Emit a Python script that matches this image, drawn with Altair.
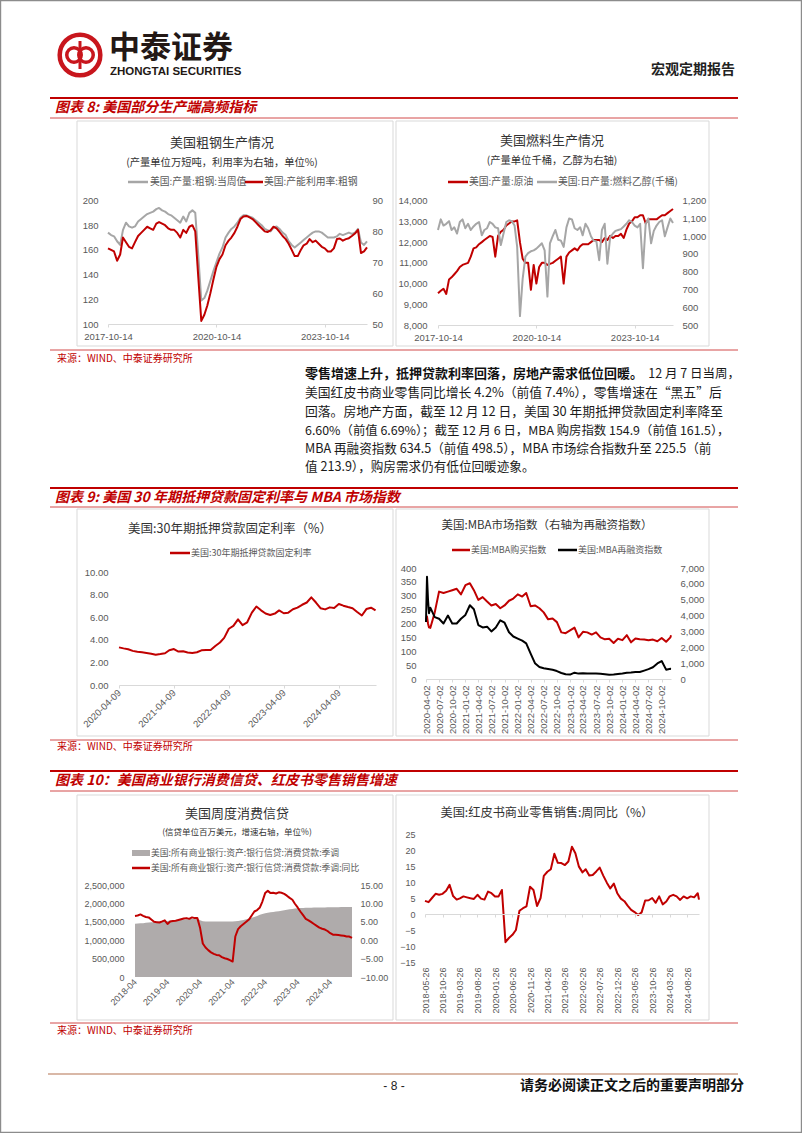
import altair as alt
import pandas as pd

W, H = 802, 1133
RED = "#C00000"
THIN_RED = "#D24B4B"
GRAY = "#A6A6A6"
AREA_GRAY = "#AFABAB"
LABEL = "#595959"
TITLE = "#333333"
CJK = "Noto Sans CJK SC"
NUM = "Liberation Sans, Noto Sans CJK SC"

# ---------------- chart values ----------------
# Chart 1: US crude steel, monthly samples Oct-2017 .. Dec-2024
steel_output = [174, 172, 171, 167, 164, 176, 182, 179, 178, 179,
                183, 185, 187, 189, 190, 191, 193, 194, 192, 191,
                189, 188, 186, 184, 182, 187, 183, 190, 192, 190,
                155, 119, 121, 127, 135, 143, 150, 157, 162, 170,
                174, 177, 179, 182, 186, 188, 188, 187, 186, 184,
                182, 180, 177, 176, 175, 178, 179, 177, 174, 172,
                167, 164, 162, 164, 166, 168, 170, 172, 174, 175,
                175, 174, 172, 170, 170, 170, 171, 173, 172, 173,
                174, 173, 174, 177, 166, 164, 167]
steel_util = [74.5, 74.0, 73.5, 70.5, 72.5, 78.0, 76.5, 75.0, 74.5, 76.5,
              78.5, 79.5, 80.5, 81.5, 81.0, 80.5, 82.5, 83.0, 82.5, 82.0,
              81.0, 80.5, 80.5, 79.5, 78.0, 80.5, 79.5, 81.5, 82.0, 80.0,
              65.0, 51.0, 53.0, 56.0, 60.0, 64.5, 68.5, 71.0, 72.5, 75.5,
              77.0, 78.0, 79.5, 81.5, 84.0, 84.8, 85.0, 84.5, 84.0, 83.0,
              82.0, 81.0, 80.0, 79.8, 80.3, 81.5, 81.0, 79.8, 78.5, 77.5,
              76.0, 74.0, 72.0, 72.0, 74.0, 75.5, 76.0, 77.5, 76.5, 77.0,
              76.0, 75.0, 74.5, 73.5, 73.5, 74.5, 77.5, 77.7, 77.0, 77.5,
              77.8, 78.5, 79.3, 80.5, 73.0, 73.5, 74.8]

# Chart 2: US crude oil output and fuel ethanol output, Oct-2017 .. Dec-2024
crude_oil = [9530, 9650, 9750, 9500, 10200, 10300, 10450, 10600, 10800, 10900,
             10950, 11000, 11300, 11700, 11750, 11900, 12000, 12100, 12200, 12300,
             12250, 11300, 12300, 12500, 12600, 12800, 12900, 13000, 13000, 13050,
             12000, 11200, 11000, 11000, 9700, 10900, 10000, 10800, 11000, 11000,
             10900, 10950, 11000, 11100, 11200, 11300, 10000, 11300, 11500, 11600,
             11700, 11600, 11800, 11900, 11900, 11900, 12000, 12100, 12100, 12100,
             12000, 12200, 12100, 12300, 12200, 12300, 12300, 12400, 12200, 12600,
             12900, 13000, 13200, 13200, 13300, 13300, 12900, 13100, 13100, 13100,
             13100, 13200, 13300, 13300, 13400, 13500, 13600]
ethanol = [1035, 1095, 1060, 1070, 1085, 1035, 1050, 1015, 1080, 1095,
           1045, 1070, 1035, 1055, 1070, 1080, 1005, 1035, 1045, 1080,
           1070, 1050, 1045, 950, 1015, 1080, 1090, 1085, 1060, 940,
           550, 760, 885, 905, 915, 920, 930, 945, 960, 920,
           660, 960, 1000, 1035, 980, 975, 940, 1050, 1100, 1095,
           1045, 1035, 1050, 1005, 1070, 1045, 1000, 975, 970, 865,
           1035, 1070, 845, 995, 1015, 1030, 1035, 1040, 1055, 1070,
           1090, 1080, 1060, 1050, 1070, 820, 1070, 1100, 960, 1030,
           1060, 1080, 1090, 1000, 1050, 1100, 1075]

# Chart 3: 30-year fixed mortgage rate, Apr-2020 .. Dec-2024
mortgage_rate = [3.33, 3.24, 3.16, 3.02, 2.94, 2.89, 2.83, 2.77, 2.68, 2.74,
                 2.81, 3.08, 3.18, 2.96, 2.98, 2.87, 2.84, 2.90, 3.07, 3.10,
                 3.10, 3.45, 3.76, 4.17, 4.98, 5.23, 5.81, 5.30, 5.55, 6.40,
                 6.95, 6.61, 6.33, 6.20, 6.32, 6.60, 6.35, 6.40, 6.70, 6.85,
                 7.10, 7.30, 7.76, 7.30, 6.80, 6.69, 6.87, 6.82, 7.17, 7.02,
                 6.90, 6.80, 6.46, 6.15, 6.72, 6.84, 6.60]

# Chart 4: MBA purchase index (left) and refinance index (right)
mba_early_dates = ["2020-04-02", "2020-04-09", "2020-04-16", "2020-04-23"]
mba_last_date = "2024-12-06"
mba_purchase = [213, 225, 200, 186,
                184, 240, 315, 310, 315, 320, 325, 305, 338, 345,
                320, 285, 295, 279, 265, 270, 255, 265, 282, 290,
                305, 297, 310, 262, 265, 255, 240, 215, 218, 205,
                168, 165, 175, 185, 150, 170, 168, 160, 168, 150,
                143, 145, 130, 145, 140, 158, 132, 146, 143, 142,
                140, 142, 136, 148, 134, 150,
                158]
mba_refi = [3600, 6450, 4990, 4145,
            4500, 3900, 3800, 3500, 4000, 3500, 3500, 3800, 4040, 4650,
            4400, 3400, 3250, 3300, 3000, 3250, 3700, 3550, 2950, 2680,
            2550, 2420, 2250, 1600, 1000, 760, 680, 630, 580, 500,
            380, 300, 280, 400, 340, 370, 350, 340, 340, 330,
            300, 275, 285, 320, 350, 390, 410, 440, 440, 530,
            620, 740, 980, 1130, 590, 640,
            634]

# Chart 5: consumer loans at commercial banks (USD mn) and YoY (%), Apr-2018 .. Dec-2024
consumer_loans = [1444000, 1451000, 1458000, 1464000, 1471000, 1478000, 1485000, 1491000, 1498000, 1505000,
                  1512000, 1518000, 1525000, 1532000, 1538000, 1545000, 1552000, 1558000, 1565000, 1571000,
                  1578000, 1585000, 1591000, 1598000, 1540000, 1515000, 1508000, 1505000, 1505000, 1505000,
                  1506000, 1506000, 1507000, 1507000, 1508000, 1508000, 1510000, 1512000, 1520000, 1535000,
                  1552000, 1570000, 1590000, 1610000, 1632000, 1660000, 1690000, 1715000, 1733000, 1745000,
                  1757000, 1768000, 1778000, 1790000, 1803000, 1815000, 1828000, 1841000, 1850000, 1860000,
                  1868000, 1873000, 1877000, 1880000, 1883000, 1885000, 1887000, 1888000, 1889000, 1890000,
                  1891000, 1893000, 1894000, 1895000, 1897000, 1898000, 1900000, 1901000, 1902000, 1903000,
                  1904000]
consumer_loans_yoy = [6.6, 6.7, 7.0, 6.6, 6.3, 6.2, 5.6, 5.0, 4.9, 4.8,
                      5.1, 5.4, 4.4, 5.1, 5.2, 5.3, 5.5, 5.7, 5.9, 6.0,
                      5.8, 6.2, 6.0, 6.0, 3.3, -0.9, -2.0, -2.7, -3.3, -3.7,
                      -4.0, -4.1, -4.6, -4.9, -5.1, -5.4, -5.8, 1.0, 3.0, 3.8,
                      4.4, 5.0, 5.6, 6.7, 7.8, 8.2, 8.9, 10.5, 12.8, 13.4,
                      12.8, 12.9, 12.7, 13.0, 12.9, 12.6, 12.1, 11.5, 11.0, 9.9,
                      8.9, 7.8, 6.8, 5.8, 5.4, 4.9, 4.4, 3.9, 3.4, 3.1,
                      2.9, 2.5, 1.9, 1.5, 1.5, 1.4, 1.3, 1.2, 1.0, 1.0,
                      0.6]

# Chart 6: Redbook retail sales YoY (%), May-2018 .. Dec-2024
redbook_last_date = "2024-12-07"
redbook_yoy = [4.1, 3.7, 5.0, 6.3, 6.0, 6.3, 7.3, 9.1, 5.6, 4.5,
               4.9, 5.5, 5.2, 4.9, 4.7, 6.0, 4.8, 4.5, 7.0, 6.5,
               5.5, 5.5, 7.5, -8.8, -7.5, -6.5, -5.0, 1.0, 1.8, 2.4,
               8.5, 7.5, 2.5, 5.0, 11.9, 13.2, 14.0, 18.8, 16.0, 15.9,
               15.3, 16.4, 21.0, 19.0, 14.8, 13.0, 14.0, 12.0, 12.2, 13.3,
               14.5, 12.0, 9.8, 8.0, 9.5, 6.5, 4.8, 4.0, 2.6, 1.3,
               0.6, -0.3, 0.5, 4.2, 4.3, 5.0, 3.5, 5.5, 3.0, 3.9,
               5.5, 6.0, 5.5, 4.4, 5.5, 4.9, 5.5, 5.2, 6.5, 4.5]

# tick labels
steel_ticks = ["2017-10-14", "2020-10-14", "2023-10-14"]
mort_ticks = ["2020-04-09", "2021-04-09", "2022-04-09", "2023-04-09", "2024-04-09"]
mba_ticks = ["2020-04-02", "2020-07-02", "2020-10-02", "2021-01-02", "2021-04-02", "2021-07-02",
             "2021-10-02", "2022-01-02", "2022-04-02", "2022-07-02", "2022-10-02", "2023-01-02",
             "2023-04-02", "2023-07-02", "2023-10-02", "2024-01-02", "2024-04-02", "2024-07-02",
             "2024-10-02"]
loan_ticks = ["2018-04-01", "2019-04-01", "2020-04-01", "2021-04-01", "2022-04-01", "2023-04-01", "2024-04-01"]
redbook_ticks = ["2018-05-26", "2018-10-26", "2019-03-26", "2019-08-26", "2020-01-26", "2020-06-26",
                 "2020-11-26", "2021-04-26", "2021-09-26", "2022-02-26", "2022-07-26", "2022-12-26",
                 "2023-05-26", "2023-10-26", "2024-03-26", "2024-08-26"]


def monthly(start, n):
    return list(pd.date_range(start=start, periods=n, freq=pd.DateOffset(months=1)))


def dt(s):
    y, m, d = (int(v) for v in s.split("-"))
    return alt.DateTime(year=y, month=m, date=d)


steel_df = pd.DataFrame({"date": monthly("2017-10-14", 87), "output": steel_output, "util": steel_util})
fuel_df = pd.DataFrame({"date": monthly("2017-10-14", 87), "crude": crude_oil, "ethanol": ethanol})
mort_df = pd.DataFrame({"date": monthly("2020-04-09", 57), "rate": mortgage_rate})
mba_dates = [pd.Timestamp(d) for d in mba_early_dates] + monthly("2020-05-02", 56) + [pd.Timestamp(mba_last_date)]
mba_df = pd.DataFrame({"date": mba_dates, "purchase": mba_purchase, "refi": mba_refi})
loan_df = pd.DataFrame({"date": monthly("2018-04-01", 81), "loans": consumer_loans, "yoy": consumer_loans_yoy})
rb_df = pd.DataFrame({"date": monthly("2018-05-26", 79) + [pd.Timestamp(redbook_last_date)], "yoy": redbook_yoy})


# ---------------- helpers ----------------
def y_axis(orient, pos, values, fmt, size=9.5):
    off = -pos if orient == "left" else pos - W
    return alt.Axis(orient=orient, offset=off, values=values, format=fmt, domain=False,
                    ticks=False, tickSize=0, grid=False, labelPadding=0, labelFontSize=size,
                    labelColor=LABEL, labelFont=NUM, labelOverlap=False, labelFlush=False, zindex=2)


def x_axis(ypos, values, fmt, angle=0, size=9.5, pad=4, ticks=True, domain=True, align=None, baseline=None):
    kw = dict(orient="bottom", offset=ypos - H, values=[dt(v) for v in values], format=fmt,
              grid=False, domain=domain, ticks=ticks, tickSize=3, domainColor="#D9D9D9",
              tickColor="#D9D9D9", labelPadding=pad, labelFontSize=size, labelColor=LABEL,
              labelFont=NUM, labelOverlap=False, labelFlush=False, labelAngle=angle, zindex=1)
    if align:
        kw["labelAlign"] = align
    if baseline:
        kw["labelBaseline"] = baseline
    return alt.Axis(**kw)


def xs(a, b, r0, r1):
    return alt.Scale(domain=[dt(a), dt(b)], range=[r0, r1], nice=False)


def ys(lo, hi, bot, top):
    return alt.Scale(domain=[lo, hi], range=[bot, top], nice=False, zero=False)


def series(df, field, xscale, yscale, color, xaxis=None, yaxis=None, width=2.0):
    return alt.Chart(df).mark_line(color=color, strokeWidth=width, strokeJoin="round").encode(
        x=alt.X("date:T", scale=xscale, axis=xaxis, title=None),
        y=alt.Y(f"{field}:Q", scale=yscale, axis=yaxis, title=None),
    )


def texts(rows, align="left", color=TITLE, weight="normal", style="normal", font=CJK):
    df = pd.DataFrame(rows, columns=["x", "y", "t", "s"])
    return alt.Chart(df).mark_text(align=align, baseline="middle", color=color, fontWeight=weight,
                                   fontStyle=style, font=font).encode(
        x=alt.X("x:Q", scale=None, axis=None),
        y=alt.Y("y:Q", scale=None, axis=None),
        text="t:N",
        size=alt.Size("s:Q", scale=None),
    )


ONE = pd.DataFrame({"a": [0]})

# ---------------- page furniture ----------------
boxes = pd.DataFrame([
    (77, 393, 121, 346), (396, 709, 121, 346),
    (77, 393, 509, 736), (396, 709, 509, 736),
    (77, 393, 795, 1020), (396, 709, 795, 1020),
], columns=["x1", "x2", "y1", "y2"])
box_layer = alt.Chart(boxes).mark_rect(fillOpacity=0, stroke="#D9D9D9", strokeWidth=1).encode(
    x=alt.X("x1:Q", scale=None, axis=None), x2="x2:Q",
    y=alt.Y("y1:Q", scale=None, axis=None), y2="y2:Q")

page_border = alt.Chart(ONE).mark_rect(fillOpacity=0, stroke="#8C8C8C", strokeWidth=1.2).encode(
    x=alt.value(0.6), x2=alt.value(801.4), y=alt.value(0.6), y2=alt.value(1132.4))

rules = pd.DataFrame([
    (50, 738, 98, RED, 2), (50, 738, 118, THIN_RED, 1),
    (50, 738, 350, THIN_RED, 1),
    (50, 738, 488, RED, 2), (50, 738, 507, THIN_RED, 1),
    (50, 738, 740, THIN_RED, 1),
    (50, 738, 771, RED, 2), (50, 738, 791, THIN_RED, 1),
    (50, 738, 1023, THIN_RED, 1),
    (48, 738, 1074, "#D9B8A7", 2),
    (128, 148, 182, GRAY, 2.5), (245, 263, 182, RED, 2.5),
    (448, 468, 182, RED, 2.5), (537, 557, 182, GRAY, 2.5),
    (170, 190, 553, RED, 2.5),
    (452, 470, 550, RED, 2.5), (558, 577, 550, "#000000", 2.5),
    (132, 150, 868, RED, 2.5),
], columns=["x1", "x2", "y", "c", "w"])
rule_layer = alt.Chart(rules).mark_rule().encode(
    x=alt.X("x1:Q", scale=None, axis=None), x2="x2:Q",
    y=alt.Y("y:Q", scale=None, axis=None),
    color=alt.Color("c:N", scale=None),
    strokeWidth=alt.StrokeWidth("w:Q", scale=None))

swatch = alt.Chart(ONE).mark_rect(fill=AREA_GRAY).encode(
    x=alt.value(132), x2=alt.value(150), y=alt.value(850), y2=alt.value(856))

logo_ring = alt.Chart(ONE).mark_point(shape="circle", filled=False, size=1650, strokeWidth=4.5,
                                      color="#C8161D", opacity=1).encode(x=alt.value(80), y=alt.value(55))
logo_inner = alt.Chart(pd.DataFrame({"x": [74, 86], "y": [55, 55]})).mark_point(
    shape="circle", filled=False, size=210, strokeWidth=3.5, color="#C8161D", opacity=1).encode(
    x=alt.X("x:Q", scale=None, axis=None), y=alt.Y("y:Q", scale=None, axis=None))
logo_bar = alt.Chart(ONE).mark_rule(color="#C8161D", strokeWidth=3).encode(
    x=alt.value(80), y=alt.value(41), y2=alt.value(69))

header_cn = texts([(109, 49, "中泰证券", 31)], color="#231815", weight="bold")
header_en = texts([(110, 72, "ZHONGTAI SECURITIES", 11.5)], color="#231815", weight="bold",
                  font="Liberation Sans Narrow, Liberation Sans")
header_right = texts([(735, 70, "宏观定期报告", 14)], align="right", color="#222222", weight="bold")

fig_titles = texts([
    (55, 108, "图表 8: 美国部分生产端高频指标", 14),
    (55, 498, "图表 9: 美国 30 年期抵押贷款固定利率与 MBA 市场指数", 14),
    (55, 781, "图表 10：美国商业银行消费信贷、红皮书零售销售增速", 14),
], color=RED, weight="bold", style="italic")

sources = texts([
    (57, 359, "来源：WIND、中泰证券研究所", 10),
    (57, 747, "来源：WIND、中泰证券研究所", 10),
    (57, 1031, "来源：WIND、中泰证券研究所", 10),
], color=RED)

chart_titles = texts([
    (222, 143, "美国粗钢生产情况", 13),
    (552, 141, "美国燃料生产情况", 13),
    (230, 529, "美国:30年期抵押贷款固定利率（%）", 12.5),
    (547, 526, "美国:MBA市场指数（右轴为再融资指数）", 11.5),
    (237, 814, "美国周度消费信贷", 13),
    (547, 813, "美国:红皮书商业零售销售:周同比（%）", 12.2),
    (222, 163, "(产量单位万短吨，利用率为右轴，单位%)", 10.3),
    (552, 161, "(产量单位千桶，乙醇为右轴)", 10.3),
    (237, 832, "(信贷单位百万美元，增速右轴，单位%)", 8.5),
], align="center", color=TITLE)

legend_texts = texts([
    (150, 182, "美国:产量:粗钢:当周值", 9.8),
    (264, 182, "美国:产能利用率:粗钢", 9.8),
    (469, 182, "美国:产量:原油", 9.8),
    (558, 182, "美国:日产量:燃料乙醇(千桶)", 9.8),
    (191, 553, "美国:30年期抵押贷款固定利率", 9),
    (471, 550, "美国:MBA购买指数", 9),
    (578, 550, "美国:MBA再融资指数", 9),
    (151, 853, "美国:所有商业银行:资产:银行信贷:消费贷款:季调", 8.8),
    (151, 868, "美国:所有商业银行:资产:银行信贷:消费贷款:季调:同比", 8.8),
], color=LABEL)

para_bold = texts([(305, 374, "零售增速上升，抵押贷款利率回落，房地产需求低位回暖。", 13)],
                  color="#111111", weight="bold")
para_tail = texts([(740, 374, "12 月 7 日当周，", 12.5)], align="right", color="#1a1a1a")
para = texts([
    (305, 393, "美国红皮书商业零售同比增长 4.2%（前值 7.4%），零售增速在“黑五”后", 12.8),
    (305, 412, "回落。房地产方面，截至 12 月 12 日，美国 30 年期抵押贷款固定利率降至", 12.8),
    (305, 431, "6.60%（前值 6.69%）；截至 12 月 6 日，MBA 购房指数 154.9（前值 161.5），", 12.4),
    (305, 449, "MBA 再融资指数 634.5（前值 498.5），MBA 市场综合指数升至 225.5（前", 12.6),
    (305, 467, "值 213.9），购房需求仍有低位回暖迹象。", 12.6),
], color="#1a1a1a")

footer_page = texts([(394, 1086, "- 8 -", 12)], align="center", color="#222222", font=NUM)
footer_note = texts([(744, 1086, "请务必阅读正文之后的重要声明部分", 14)], align="right",
                    color="#111111", weight="bold")

# ---------------- charts ----------------
# Chart 1
x1 = xs("2017-10-14", "2024-12-14", 108, 367)
c1a = series(steel_df, "output", x1, ys(100, 200, 324, 200.5), GRAY,
             xaxis=x_axis(324, steel_ticks, "%Y-%m-%d"),
             yaxis=y_axis("left", 98, [100, 120, 140, 160, 180, 200], "d"))
c1b = series(steel_df, "util", x1, ys(50, 90, 324, 200.5), RED,
             yaxis=y_axis("right", 372, [50, 60, 70, 80, 90], "d"))

# Chart 2
x2 = xs("2017-10-14", "2024-12-14", 438, 673)
c2a = series(fuel_df, "crude", x2, ys(8000, 14000, 325, 200.7), RED,
             xaxis=x_axis(325, steel_ticks, "%Y-%m-%d"),
             yaxis=y_axis("left", 427, list(range(8000, 14001, 1000)), ",.0f"))
c2b = series(fuel_df, "ethanol", x2, ys(500, 1200, 325, 200.7), GRAY,
             yaxis=y_axis("right", 682, list(range(500, 1201, 100)), ",.0f"))

# Chart 3
x3 = xs("2020-04-09", "2024-12-12", 119, 376)
c3 = series(mort_df, "rate", x3, ys(0, 10, 685, 572), RED,
            xaxis=x_axis(685, mort_ticks, "%Y-%m-%d", angle=315, size=9.5, pad=3,
                         align="right", baseline="middle"),
            yaxis=y_axis("left", 108, [0, 2, 4, 6, 8, 10], ".2f"))

# Chart 4
x4 = xs("2020-04-02", "2024-12-06", 426, 671)
c4a = series(mba_df, "purchase", x4, ys(0, 400, 679, 568), RED,
             xaxis=x_axis(679, mba_ticks, "%Y-%m-%d", angle=270, size=9.5, pad=3,
                          align="right", baseline="middle"),
             yaxis=y_axis("left", 416, list(range(0, 401, 50)), "d"))
c4b = series(mba_df, "refi", x4, ys(0, 7000, 679, 568), "#000000",
             yaxis=y_axis("right", 680, list(range(0, 7001, 1000)), ",.0f"))

# Chart 5
x5 = xs("2018-04-01", "2024-12-01", 135, 352)
c5a = alt.Chart(loan_df).mark_area(color=AREA_GRAY).encode(
    x=alt.X("date:T", scale=x5, title=None,
            axis=x_axis(977, loan_ticks, "%Y-%m", angle=315, size=9, pad=3, ticks=False,
                        domain=False, align="right", baseline="middle")),
    y=alt.Y("loans:Q", scale=ys(0, 2500000, 977, 885), title=None,
            axis=y_axis("left", 124, list(range(0, 2500001, 500000)), ",.0f", size=9)),
    y2=alt.Y2(datum=0),
)
c5b = series(loan_df, "yoy", x5, ys(-10, 15, 977, 885), RED,
             yaxis=y_axis("right", 360, [-10, -5, 0, 5, 10, 15], ".2f", size=9))

# Chart 6
x6 = xs("2018-05-26", "2024-12-07", 425, 699)
c6 = series(rb_df, "yoy", x6, ys(-15, 25, 962, 834), RED,
            xaxis=x_axis(914, redbook_ticks, "%Y-%m-%d", angle=270, size=9, pad=50,
                         align="right", baseline="middle"),
            yaxis=y_axis("left", 415, list(range(-15, 26, 5)), "d", size=9))

chart = alt.layer(
    box_layer, page_border, rule_layer, swatch,
    logo_ring, logo_inner, logo_bar, header_cn, header_en, header_right,
    fig_titles, sources, chart_titles, legend_texts,
    para_bold, para_tail, para, footer_page, footer_note,
    c1a, c1b, c2a, c2b, c3, c4a, c4b, c5a, c5b, c6,
).resolve_scale(x="independent", y="independent").properties(
    width=W, height=H, padding=0, background="white",
    autosize=alt.AutoSizeParams(type="none"),
).configure_view(strokeWidth=0)

chart.save("out.html", embed_options={"renderer": "svg", "actions": False})
